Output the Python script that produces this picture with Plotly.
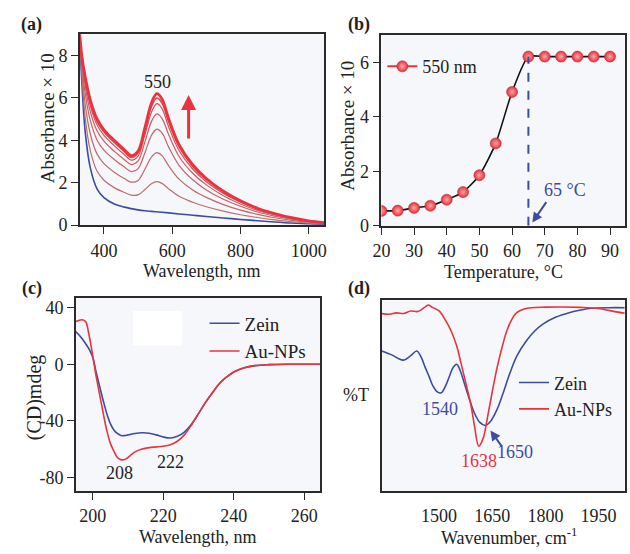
import plotly.graph_objects as go

FONT = "Liberation Serif"
BLUE = "#3c4c9e"
RED = "#e8343c"
FRAME = "#2b2b2b"
BG = "#f6f7fa"

# ---------------- (a) UV-vis spectra ----------------
wl_a = [329, 335, 345, 360, 380, 400, 430, 460, 480, 500, 520, 540, 555, 570, 590,
        620, 660, 700, 750, 800, 850, 900, 950, 1000, 1046]
abs_zein = [9.0, 6.8, 4.4, 2.7, 1.7, 1.3, 1.0, 0.85, 0.78, 0.72, 0.68, 0.65, 0.63, 0.61, 0.58,
            0.53, 0.47, 0.41, 0.34, 0.27, 0.21, 0.15, 0.10, 0.07, 0.04]
abs_r1 = [9.0, 7.1, 5.06, 3.52, 2.54, 2.12, 1.77, 1.54, 1.42, 1.43, 1.68, 1.96, 2.05, 1.97, 1.71,
          1.36, 1.08, 0.87, 0.66, 0.49, 0.36, 0.25, 0.16, 0.10, 0.06]
abs_r2 = [9.0, 7.4, 5.7, 4.3, 3.35, 2.9, 2.5, 2.2, 2.03, 2.11, 2.64, 3.23, 3.42, 3.28, 2.79,
          2.17, 1.66, 1.31, 0.97, 0.71, 0.51, 0.35, 0.23, 0.14, 0.08]
abs_r3 = [9.0, 7.64, 6.22, 4.94, 4.01, 3.54, 3.1, 2.74, 2.53, 2.67, 3.42, 4.26, 4.53, 4.35, 3.67,
          2.82, 2.14, 1.66, 1.22, 0.89, 0.62, 0.43, 0.28, 0.16, 0.10]
abs_r4 = [9.0, 7.8, 6.56, 5.36, 4.44, 3.96, 3.49, 3.09, 2.86, 3.03, 3.93, 4.92, 5.25, 5.04, 4.25,
          3.24, 2.45, 1.9, 1.39, 1.0, 0.70, 0.48, 0.31, 0.18, 0.11]
abs_r5 = [9.0, 7.9, 6.78, 5.63, 4.72, 4.23, 3.75, 3.32, 3.07, 3.26, 4.27, 5.36, 5.73, 5.5, 4.62,
          3.52, 2.65, 2.05, 1.49, 1.08, 0.75, 0.52, 0.33, 0.19, 0.11]
abs_r6 = [9.0, 7.96, 6.91, 5.79, 4.88, 4.39, 3.9, 3.46, 3.19, 3.4, 4.46, 5.62, 6.0, 5.76, 4.85,
          3.69, 2.77, 2.14, 1.56, 1.12, 0.78, 0.54, 0.34, 0.20, 0.12]
abs_r7 = [9.0, 8.0, 7.0, 5.9, 5.0, 4.5, 4.0, 3.55, 3.28, 3.5, 4.6, 5.8, 6.2, 5.95, 5.0,
          3.8, 2.85, 2.2, 1.6, 1.15, 0.80, 0.55, 0.35, 0.20, 0.12]
red_series = [abs_r1, abs_r2, abs_r3, abs_r4, abs_r5, abs_r6, abs_r7]
red_colors = ["#b87070", "#be6a6c", "#c66367", "#cf5a60", "#d84e56", "#e0434b", "#e8343c"]
red_widths = [1.2, 1.2, 1.2, 1.2, 1.2, 1.4, 2.8]

# ---------------- (b) temperature series ----------------
temp_b = [20, 25, 30, 35, 40, 45, 50, 55, 60, 65, 70, 75, 80, 85, 90]
abs_550 = [0.55, 0.56, 0.66, 0.74, 0.96, 1.24, 1.86, 3.03, 4.92, 6.22, 6.22, 6.22, 6.22, 6.22, 6.22]

# ---------------- (c) CD spectra ----------------
wl_c = [195, 196, 197, 198, 199, 200, 201, 202, 203, 204, 205, 206, 207, 208, 209, 210,
        212, 214, 216, 218, 220, 222, 224, 226, 228, 230, 232, 234, 236, 238, 240, 243,
        246, 250, 255, 260, 265]
cd_zein = [23.5, 21, 18, 14.5, 10.5, 5, -6, -16, -26, -35, -42, -46.5, -49, -50.5, -50.5, -50,
           -49, -48.5, -48.8, -50, -51.5, -52.2, -51, -48, -42.5, -35, -27, -20, -13.5, -9, -5.5, -2.5,
           -1, -0.3, 0, 0, 0]
cd_au = [30, 31, 31.5, 30, 20, 6, -9, -22, -35, -47, -56, -61.5, -66, -67.5, -67.5, -66,
         -62, -60, -59, -58.5, -58, -57, -54.5, -50, -43, -35, -27, -20, -13.5, -9, -5.5, -2.5,
         -1, -0.3, 0, 0, 0]

# ---------------- (d) FTIR spectra ----------------
wn_zein = [1338, 1368, 1385, 1400, 1420, 1437, 1450, 1460, 1472, 1483, 1495, 1506, 1518, 1529,
           1540, 1550, 1560, 1571, 1585, 1599, 1615, 1631, 1645, 1664, 1680, 1700, 1720, 1747,
           1770, 1793, 1830, 1867, 1900, 1931, 1980, 2024]
t_zein = [73.5, 71.3, 69.5, 68.7, 71, 73.5, 70, 65.3, 60, 55, 52, 51.5, 55, 60.1,
          65, 66.5, 63, 56.7, 48.5, 41.2, 36, 34.4, 36.5, 43, 51, 61.9, 71, 79,
          84, 87.6, 91.3, 93.6, 95, 95.9, 96.2, 96.2]
wn_au = [1338, 1360, 1380, 1400, 1420, 1440, 1460, 1470, 1480, 1500, 1520, 1534, 1550, 1562,
         1575, 1590, 1600, 1612, 1625, 1636, 1650, 1664, 1680, 1691, 1705, 1719, 1740, 1760,
         1800, 1850, 1900, 1950, 2000, 2024]
t_au = [93.1, 92.8, 93.5, 93.2, 94.5, 94.2, 96.5, 97.6, 96.5, 94.5, 89, 84, 76, 67,
        57, 45, 34, 23.5, 28, 38, 52, 65, 77, 84, 90, 93.6, 95.5, 96.2,
        96.5, 96.6, 96.4, 95.8, 94, 93.3]

fig = go.Figure()

# (a)
fig.add_trace(go.Scatter(x=wl_a, y=abs_zein, mode="lines", line=dict(color=BLUE, width=1.6, shape="spline"),
                         showlegend=False, xaxis="x", yaxis="y"))
for ys, c, w in zip(red_series, red_colors, red_widths):
    fig.add_trace(go.Scatter(x=wl_a, y=ys, mode="lines", line=dict(color=c, width=w, shape="spline"),
                             showlegend=False, xaxis="x", yaxis="y"))

# (b)
fig.add_trace(go.Scatter(x=temp_b, y=abs_550, mode="lines+markers",
                         line=dict(color="#111111", width=1.6, shape="spline", smoothing=0.6),
                         marker=dict(size=11, color="#e5303a", line=dict(color="#c0282e", width=0.6),
                                     gradient=dict(type="radial", color="#ffa8a8")),
                         showlegend=False, xaxis="x2", yaxis="y2"))
fig.add_trace(go.Scatter(x=[None], y=[None], mode="lines+markers", name="550 nm",
                         line=dict(color=RED, width=2),
                         marker=dict(size=11, color="#e5303a", line=dict(color="#c0282e", width=0.6),
                                     gradient=dict(type="radial", color="#ffa8a8")),
                         legend="legend", xaxis="x2", yaxis="y2"))

# (c)
fig.add_trace(go.Scatter(x=wl_c, y=cd_zein, mode="lines", name="Zein",
                         line=dict(color=BLUE, width=1.6, shape="spline"),
                         legend="legend2", xaxis="x3", yaxis="y3"))
fig.add_trace(go.Scatter(x=wl_c, y=cd_au, mode="lines", name="Au-NPs",
                         line=dict(color=RED, width=1.6, shape="spline"),
                         legend="legend2", xaxis="x3", yaxis="y3"))

# (d)
fig.add_trace(go.Scatter(x=wn_zein, y=t_zein, mode="lines", name="Zein",
                         line=dict(color=BLUE, width=1.6, shape="spline"),
                         legend="legend3", xaxis="x4", yaxis="y4"))
fig.add_trace(go.Scatter(x=wn_au, y=t_au, mode="lines", name="Au-NPs",
                         line=dict(color=RED, width=1.6, shape="spline"),
                         legend="legend3", xaxis="x4", yaxis="y4"))

W, H = 630, 554
def dx(a, b):
    return [a / W, b / W]
def dy(top, bot):
    return [1 - bot / H, 1 - top / H]

tickfont = dict(family=FONT, size=18, color="#222")
ax_common = dict(showline=True, linecolor=FRAME, linewidth=1.5, mirror=True, showgrid=False,
                 zeroline=False, ticks="outside", ticklen=7, tickwidth=1.3, tickcolor=FRAME,
                 tickfont=tickfont)
xa_common = dict(ax_common, ticklabelstandoff=1)

fig.update_layout(
    width=W, height=H, margin=dict(l=0, r=0, t=0, b=0),
    paper_bgcolor="white", plot_bgcolor=BG,
    font=dict(family=FONT, size=18, color="#222"),
    xaxis=dict(domain=dx(72, 321), range=[329, 1046], tickvals=[400, 600, 800, 1000], anchor="y", **xa_common),
    yaxis=dict(domain=dy(35, 229.3), range=[0, 9], tickvals=[0, 2, 4, 6, 8], anchor="x", **ax_common),
    xaxis2=dict(domain=dx(379, 626.7), range=[20, 94.5], tickvals=list(range(20, 91, 10)), anchor="y2", **xa_common),
    yaxis2=dict(domain=dy(36, 230), range=[0, 7], tickvals=[0, 2, 4, 6], anchor="x2", **ax_common),
    xaxis3=dict(domain=dx(68, 317), range=[195.2, 264.6], tickvals=[200, 220, 240, 260], anchor="y3", **xa_common),
    yaxis3=dict(domain=dy(303.3, 500), range=[-89.7, 47], tickvals=[-80, -40, 0, 40],
                ticktext=["-80", "-40", "0", "40"], anchor="x3", **ax_common),
    xaxis4=dict(domain=dx(379.3, 626.7), range=[1338, 2024], tickvals=[1500, 1650, 1800, 1950], anchor="y4",
                showline=True, linecolor=FRAME, linewidth=1.5, mirror=True, showgrid=False, zeroline=False,
                ticks="outside", ticklen=7, tickcolor="rgba(0,0,0,0)", tickfont=tickfont, ticklabelstandoff=1),
    yaxis4=dict(domain=dy(306, 500), range=[0, 100], anchor="x4", showline=True, linecolor=FRAME,
                linewidth=1.5, mirror=True, showgrid=False, zeroline=False, showticklabels=False, ticks=""),
    legend=dict(x=380 / W, y=1 - 49 / H, xanchor="left", yanchor="top", bgcolor="rgba(0,0,0,0)",
                font=dict(family=FONT, size=18, color="#222")),
    legend2=dict(x=199 / W, y=1 - 310 / H, xanchor="left", yanchor="top", bgcolor="rgba(0,0,0,0)",
                 font=dict(family=FONT, size=19, color="#222"), tracegroupgap=0),
    legend3=dict(x=514 / W, y=1 - 371 / H, xanchor="left", yanchor="top", bgcolor="rgba(0,0,0,0)",
                 font=dict(family=FONT, size=18, color="#222"), tracegroupgap=0),
)

# white patch in (c)
fig.add_shape(type="rect", xref="x3", yref="y3", x0=211.4, x1=225.4, y0=13.3, y1=37.6,
              fillcolor="white", line=dict(width=0), layer="below")
# dashed line in (b)
fig.add_shape(type="line", xref="x2", yref="y2", x0=65, x1=65, y0=0, y1=6.22,
              line=dict(color=BLUE, width=2, dash="dash"))

def pa(text, px, py, size=18, bold=False, angle=0, color="#222"):
    fig.add_annotation(text=("<b>%s</b>" % text) if bold else text, x=px / W, y=1 - py / H,
                       xref="paper", yref="paper", showarrow=False, textangle=angle,
                       font=dict(family=FONT, size=size, color=color), xanchor="center", yanchor="middle")

# panel labels
pa("(a)", 23, 25, 18, True)
pa("(b)", 356, 25, 18, True)
pa("(c)", 23, 294, 18, True)
pa("(d)", 356, 294, 18, True)
# axis titles
pa("Absorbance × 10", 40, 120, 19, angle=-90)
pa("Absorbance × 10", 345, 128, 19, angle=-90)
pa("(CD)mdeg", 26, 405, 20, angle=-90)
pa("%T", 353, 402, 18)
pa("Wavelength, nm", 196, 276, 18)
pa("Temperature, °C", 503, 277, 18)
pa("Wavelength, nm", 192, 547, 18)
pa("Wavenumber, cm<sup>-1</sup>", 509, 546, 18)

# data annotations
fig.add_annotation(text="550", x=556, y=6.76, xref="x", yref="y", showarrow=False,
                   font=dict(family=FONT, size=18, color="#222"))
fig.add_annotation(text="", x=648, y=6.14, xref="x", yref="y", ax=0, ay=45, showarrow=True,
                   arrowhead=2, arrowsize=1, arrowwidth=3, arrowcolor=RED)
fig.add_annotation(text="65 °C", x=76.3, y=1.33, xref="x2", yref="y2", showarrow=False,
                   font=dict(family=FONT, size=18, color=BLUE))
fig.add_annotation(text="", x=66.2, y=0.12, xref="x2", yref="y2", ax=15, ay=-22, showarrow=True,
                   arrowhead=2, arrowsize=1, arrowwidth=2, arrowcolor=BLUE)
fig.add_annotation(text="208", x=207.6, y=-77, xref="x3", yref="y3", showarrow=False,
                   font=dict(family=FONT, size=18, color="#222"))
fig.add_annotation(text="222", x=222, y=-68.9, xref="x3", yref="y3", showarrow=False,
                   font=dict(family=FONT, size=18, color="#222"))
fig.add_annotation(text="1540", x=1502, y=42.9, xref="x4", yref="y4", showarrow=False,
                   font=dict(family=FONT, size=18, color=BLUE))
fig.add_annotation(text="1638", x=1612.6, y=15.5, xref="x4", yref="y4", showarrow=False,
                   font=dict(family=FONT, size=18, color=RED))
fig.add_annotation(text="1650", x=1714, y=20.6, xref="x4", yref="y4", showarrow=False,
                   font=dict(family=FONT, size=18, color=BLUE))
fig.add_annotation(text="", x=1645, y=31.8, xref="x4", yref="y4", ax=12, ay=17, showarrow=True,
                   arrowhead=2, arrowsize=1, arrowwidth=2, arrowcolor=BLUE)

fig.write_html("out.html", config={"displayModeBar": False},
               post_script="document.body.style.margin='0';document.body.style.padding='0';")
